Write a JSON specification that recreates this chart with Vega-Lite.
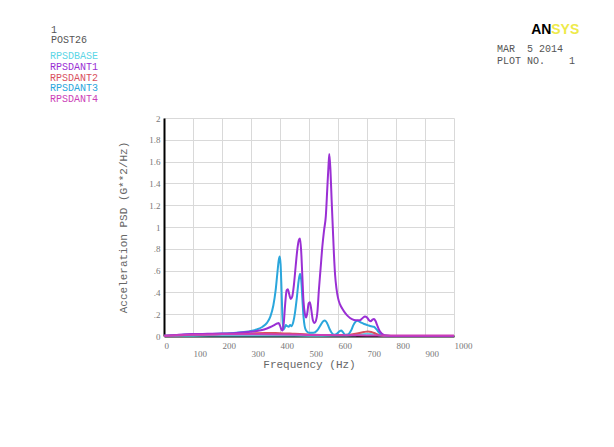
{
"$schema": "https://vega.github.io/schema/vega-lite/v6.json",
"width": 290, "height": 218,
"autosize": {"type": "none"},
"padding": {"left": 164, "top": 118, "right": 160, "bottom": 111},
"background": "white",
"title": {"text": ["MAR\u00a0\u00a05 2014", "PLOT NO.\u00a0\u00a0\u00a0\u00a01"], "anchor": "end", "align": "left", "frame": "group", "dx": 43, "dy": 44, "offset": 0, "font": "Liberation Mono", "fontSize": 10, "fontWeight": "normal", "color": "#555", "lineHeight": 12},
"data": {"values": [
{"s":"RPSDBASE","f":0,"v":0.001},{"s":"RPSDBASE","f":100,"v":0.003},{"s":"RPSDBASE","f":200,"v":0.004},{"s":"RPSDBASE","f":300,"v":0.004},{"s":"RPSDBASE","f":400,"v":0.004},{"s":"RPSDBASE","f":500,"v":0.003},{"s":"RPSDBASE","f":600,"v":0.004},{"s":"RPSDBASE","f":650,"v":0.006},{"s":"RPSDBASE","f":680,"v":0.014},{"s":"RPSDBASE","f":700,"v":0.02},{"s":"RPSDBASE","f":720,"v":0.015},{"s":"RPSDBASE","f":740,"v":0.006},{"s":"RPSDBASE","f":760,"v":0.002},{"s":"RPSDBASE","f":800,"v":0.001},{"s":"RPSDBASE","f":900,"v":0.001},{"s":"RPSDBASE","f":1000,"v":0.001},
{"s":"RPSDANT2","f":0,"v":0.001},{"s":"RPSDANT2","f":50,"v":0.006},{"s":"RPSDANT2","f":100,"v":0.012},{"s":"RPSDANT2","f":150,"v":0.015},{"s":"RPSDANT2","f":200,"v":0.018},{"s":"RPSDANT2","f":250,"v":0.021},{"s":"RPSDANT2","f":300,"v":0.024},{"s":"RPSDANT2","f":350,"v":0.027},{"s":"RPSDANT2","f":400,"v":0.026},{"s":"RPSDANT2","f":450,"v":0.02},{"s":"RPSDANT2","f":500,"v":0.014},{"s":"RPSDANT2","f":550,"v":0.01},{"s":"RPSDANT2","f":600,"v":0.009},{"s":"RPSDANT2","f":640,"v":0.012},{"s":"RPSDANT2","f":670,"v":0.025},{"s":"RPSDANT2","f":690,"v":0.037},{"s":"RPSDANT2","f":703,"v":0.041},{"s":"RPSDANT2","f":715,"v":0.037},{"s":"RPSDANT2","f":730,"v":0.022},{"s":"RPSDANT2","f":745,"v":0.008},{"s":"RPSDANT2","f":760,"v":0.002},{"s":"RPSDANT2","f":800,"v":0.001},{"s":"RPSDANT2","f":1000,"v":0.001},
{"s":"RPSDANT3","f":0,"v":0.002},{"s":"RPSDANT3","f":50,"v":0.008},{"s":"RPSDANT3","f":100,"v":0.014},{"s":"RPSDANT3","f":150,"v":0.018},{"s":"RPSDANT3","f":200,"v":0.022},{"s":"RPSDANT3","f":250,"v":0.03},{"s":"RPSDANT3","f":290,"v":0.042},{"s":"RPSDANT3","f":320,"v":0.06},{"s":"RPSDANT3","f":340,"v":0.085},{"s":"RPSDANT3","f":355,"v":0.12},{"s":"RPSDANT3","f":367,"v":0.18},{"s":"RPSDANT3","f":377,"v":0.28},{"s":"RPSDANT3","f":385,"v":0.42},{"s":"RPSDANT3","f":391,"v":0.58},{"s":"RPSDANT3","f":396,"v":0.7},{"s":"RPSDANT3","f":399,"v":0.73},{"s":"RPSDANT3","f":402,"v":0.66},{"s":"RPSDANT3","f":405,"v":0.45},{"s":"RPSDANT3","f":408,"v":0.2},{"s":"RPSDANT3","f":411,"v":0.06},{"s":"RPSDANT3","f":415,"v":0.07},{"s":"RPSDANT3","f":420,"v":0.1},{"s":"RPSDANT3","f":425,"v":0.09},{"s":"RPSDANT3","f":430,"v":0.085},{"s":"RPSDANT3","f":435,"v":0.1},{"s":"RPSDANT3","f":440,"v":0.09},{"s":"RPSDANT3","f":446,"v":0.13},{"s":"RPSDANT3","f":452,"v":0.22},{"s":"RPSDANT3","f":458,"v":0.35},{"s":"RPSDANT3","f":464,"v":0.5},{"s":"RPSDANT3","f":469,"v":0.57},{"s":"RPSDANT3","f":473,"v":0.52},{"s":"RPSDANT3","f":477,"v":0.35},{"s":"RPSDANT3","f":481,"v":0.18},{"s":"RPSDANT3","f":485,"v":0.09},{"s":"RPSDANT3","f":490,"v":0.05},{"s":"RPSDANT3","f":500,"v":0.03},{"s":"RPSDANT3","f":515,"v":0.03},{"s":"RPSDANT3","f":528,"v":0.05},{"s":"RPSDANT3","f":540,"v":0.1},{"s":"RPSDANT3","f":549,"v":0.135},{"s":"RPSDANT3","f":555,"v":0.142},{"s":"RPSDANT3","f":562,"v":0.12},{"s":"RPSDANT3","f":570,"v":0.07},{"s":"RPSDANT3","f":578,"v":0.03},{"s":"RPSDANT3","f":588,"v":0.012},{"s":"RPSDANT3","f":598,"v":0.025},{"s":"RPSDANT3","f":606,"v":0.045},{"s":"RPSDANT3","f":611,"v":0.05},{"s":"RPSDANT3","f":617,"v":0.035},{"s":"RPSDANT3","f":624,"v":0.012},{"s":"RPSDANT3","f":635,"v":0.015},{"s":"RPSDANT3","f":645,"v":0.05},{"s":"RPSDANT3","f":653,"v":0.1},{"s":"RPSDANT3","f":660,"v":0.13},{"s":"RPSDANT3","f":667,"v":0.14},{"s":"RPSDANT3","f":678,"v":0.125},{"s":"RPSDANT3","f":690,"v":0.11},{"s":"RPSDANT3","f":702,"v":0.1},{"s":"RPSDANT3","f":714,"v":0.09},{"s":"RPSDANT3","f":724,"v":0.085},{"s":"RPSDANT3","f":733,"v":0.06},{"s":"RPSDANT3","f":742,"v":0.03},{"s":"RPSDANT3","f":752,"v":0.01},{"s":"RPSDANT3","f":765,"v":0.003},{"s":"RPSDANT3","f":800,"v":0.001},{"s":"RPSDANT3","f":1000,"v":0.001},
{"s":"RPSDANT1","f":0,"v":0.002},{"s":"RPSDANT1","f":25,"v":0.006},{"s":"RPSDANT1","f":50,"v":0.012},{"s":"RPSDANT1","f":75,"v":0.016},{"s":"RPSDANT1","f":100,"v":0.018},{"s":"RPSDANT1","f":150,"v":0.02},{"s":"RPSDANT1","f":200,"v":0.022},{"s":"RPSDANT1","f":250,"v":0.027},{"s":"RPSDANT1","f":290,"v":0.036},{"s":"RPSDANT1","f":320,"v":0.045},{"s":"RPSDANT1","f":345,"v":0.06},{"s":"RPSDANT1","f":365,"v":0.08},{"s":"RPSDANT1","f":380,"v":0.1},{"s":"RPSDANT1","f":390,"v":0.115},{"s":"RPSDANT1","f":395,"v":0.12},{"s":"RPSDANT1","f":400,"v":0.095},{"s":"RPSDANT1","f":405,"v":0.06},{"s":"RPSDANT1","f":409,"v":0.05},{"s":"RPSDANT1","f":413,"v":0.12},{"s":"RPSDANT1","f":418,"v":0.3},{"s":"RPSDANT1","f":423,"v":0.42},{"s":"RPSDANT1","f":427,"v":0.43},{"s":"RPSDANT1","f":432,"v":0.38},{"s":"RPSDANT1","f":437,"v":0.34},{"s":"RPSDANT1","f":442,"v":0.36},{"s":"RPSDANT1","f":448,"v":0.47},{"s":"RPSDANT1","f":454,"v":0.64},{"s":"RPSDANT1","f":460,"v":0.8},{"s":"RPSDANT1","f":465,"v":0.88},{"s":"RPSDANT1","f":469,"v":0.895},{"s":"RPSDANT1","f":473,"v":0.78},{"s":"RPSDANT1","f":477,"v":0.55},{"s":"RPSDANT1","f":481,"v":0.32},{"s":"RPSDANT1","f":486,"v":0.2},{"s":"RPSDANT1","f":490,"v":0.17},{"s":"RPSDANT1","f":494,"v":0.21},{"s":"RPSDANT1","f":499,"v":0.3},{"s":"RPSDANT1","f":503,"v":0.31},{"s":"RPSDANT1","f":508,"v":0.24},{"s":"RPSDANT1","f":513,"v":0.15},{"s":"RPSDANT1","f":519,"v":0.12},{"s":"RPSDANT1","f":524,"v":0.14},{"s":"RPSDANT1","f":529,"v":0.22},{"s":"RPSDANT1","f":534,"v":0.42},{"s":"RPSDANT1","f":540,"v":0.62},{"s":"RPSDANT1","f":546,"v":0.82},{"s":"RPSDANT1","f":552,"v":0.97},{"s":"RPSDANT1","f":558,"v":1.1},{"s":"RPSDANT1","f":563,"v":1.35},{"s":"RPSDANT1","f":567,"v":1.55},{"s":"RPSDANT1","f":570,"v":1.67},{"s":"RPSDANT1","f":574,"v":1.52},{"s":"RPSDANT1","f":578,"v":1.25},{"s":"RPSDANT1","f":582,"v":1.0},{"s":"RPSDANT1","f":586,"v":0.75},{"s":"RPSDANT1","f":590,"v":0.56},{"s":"RPSDANT1","f":595,"v":0.43},{"s":"RPSDANT1","f":600,"v":0.35},{"s":"RPSDANT1","f":607,"v":0.29},{"s":"RPSDANT1","f":615,"v":0.25},{"s":"RPSDANT1","f":625,"v":0.21},{"s":"RPSDANT1","f":635,"v":0.18},{"s":"RPSDANT1","f":648,"v":0.155},{"s":"RPSDANT1","f":662,"v":0.145},{"s":"RPSDANT1","f":675,"v":0.145},{"s":"RPSDANT1","f":685,"v":0.165},{"s":"RPSDANT1","f":693,"v":0.178},{"s":"RPSDANT1","f":700,"v":0.17},{"s":"RPSDANT1","f":707,"v":0.145},{"s":"RPSDANT1","f":713,"v":0.135},{"s":"RPSDANT1","f":719,"v":0.15},{"s":"RPSDANT1","f":724,"v":0.155},{"s":"RPSDANT1","f":729,"v":0.14},{"s":"RPSDANT1","f":735,"v":0.1},{"s":"RPSDANT1","f":741,"v":0.06},{"s":"RPSDANT1","f":748,"v":0.03},{"s":"RPSDANT1","f":756,"v":0.012},{"s":"RPSDANT1","f":765,"v":0.004},{"s":"RPSDANT1","f":780,"v":0.001},{"s":"RPSDANT1","f":850,"v":0.0005},{"s":"RPSDANT1","f":1000,"v":0.0005},
{"s":"RPSDANT4","f":0,"v":0.002},{"s":"RPSDANT4","f":50,"v":0.008},{"s":"RPSDANT4","f":100,"v":0.012},{"s":"RPSDANT4","f":200,"v":0.015},{"s":"RPSDANT4","f":300,"v":0.016},{"s":"RPSDANT4","f":400,"v":0.014},{"s":"RPSDANT4","f":500,"v":0.01},{"s":"RPSDANT4","f":600,"v":0.007},{"s":"RPSDANT4","f":700,"v":0.005},{"s":"RPSDANT4","f":800,"v":0.004},{"s":"RPSDANT4","f":900,"v":0.004},{"s":"RPSDANT4","f":1000,"v":0.004}
]},
"layer": [
{
"transform": [{"filter": "datum.s !== 'RPSDANT4'"}],
"mark": {"type": "line", "strokeWidth": 2, "interpolate": "monotone"},
"encoding": {
"x": {"field": "f", "type": "quantitative", "scale": {"domain": [0, 1000], "nice": false, "zero": false},
 "axis": {"orient": "bottom", "values": [0,100,200,300,400,500,600,700,800,900,1000], "labelExpr": "format(datum.value, 'd')", "labelFont": "Liberation Serif", "labelFontSize": 9, "labelColor": "#777", "labelAlign": "left", "labelBaseline": "top",
 "labelPadding": {"condition": {"test": "datum.value % 200 !== 0", "value": 13}, "value": 5},
 "labelFlush": false, "labelOverlap": false, "labelBound": false, "ticks": false, "domainColor": "#000", "domainWidth": 2, "gridColor": "#d9d9d9", "gridWidth": 1,
 "title": "Frequency (Hz)", "titleFont": "Liberation Mono", "titleFontSize": 11, "titleFontWeight": "normal", "titleColor": "#666", "titlePadding": 0}},
"y": {"field": "v", "type": "quantitative", "scale": {"domain": [0, 2], "nice": false},
 "axis": {"orient": "left", "values": [0,0.2,0.4,0.6,0.8,1,1.2,1.4,1.6,1.8,2],
 "labelExpr": "datum.value > 0 && datum.value < 1 ? replace(format(datum.value, '.1f'), '0.', '.') : format(datum.value, '~g')",
 "labelFont": "Liberation Serif", "labelFontSize": 9, "labelColor": "#777", "labelPadding": 4, "ticks": false, "domainColor": "#000", "domainWidth": 2, "gridColor": "#d9d9d9", "gridWidth": 1,
 "title": "Acceleration PSD (G**2/Hz)", "titleFont": "Liberation Mono", "titleFontSize": 11, "titleFontWeight": "normal", "titleColor": "#666", "titlePadding": 20}},
"color": {"field": "s", "type": "nominal",
 "scale": {"domain": ["RPSDBASE","RPSDANT1","RPSDANT2","RPSDANT3","RPSDANT4"], "range": ["#5cd6e6","#9a2fd4","#d9505e","#2aa6dc","#cc3fb8"]},
 "legend": {"orient": "none", "legendX": -113, "legendY": -93, "title": ["1", "POST26"], "titleFont": "Liberation Mono", "titleFontSize": 10, "titleFontWeight": "normal", "titleColor": "#555", "titleLineHeight": 10, "titlePadding": 6,
  "labelFont": "Liberation Mono", "labelFontSize": 10, "labelOffset": -11, "symbolSize": 0, "symbolOpacity": 0, "symbolStrokeWidth": 0, "rowPadding": 0.8, "padding": 0,
  "encode": {"labels": {"update": {"fill": {"scale": "color", "field": "value"}}}}}}
}
},
{
"transform": [{"filter": "datum.s === 'RPSDANT4'"}],
"mark": {"type": "line", "strokeWidth": 2, "interpolate": "monotone"},
"encoding": {
"x": {"field": "f", "type": "quantitative",
 "axis": {"orient": "top", "domain": false, "ticks": false, "labels": false, "grid": false, "title": "AN", "titleFont": "Liberation Sans", "titleFontSize": 14, "titleFontWeight": "bold", "titleColor": "#000", "titleX": 366.7, "titleY": -84.7, "titleAlign": "left", "titleBaseline": "alphabetic", "titleAngle": 0}},
"y": {"field": "v", "type": "quantitative",
 "axis": {"orient": "right", "domain": false, "ticks": false, "labels": false, "grid": false, "title": "SYS", "titleFont": "Liberation Sans", "titleFontSize": 14, "titleFontWeight": "bold", "titleColor": "#eeea4a", "titleX": 96.7, "titleY": -84.7, "titleAlign": "left", "titleBaseline": "alphabetic", "titleAngle": 0}},
"color": {"field": "s", "type": "nominal"}
}
}
],
"resolve": {"axis": {"x": "independent", "y": "independent"}},
"config": {"view": {"stroke": null}}
}
